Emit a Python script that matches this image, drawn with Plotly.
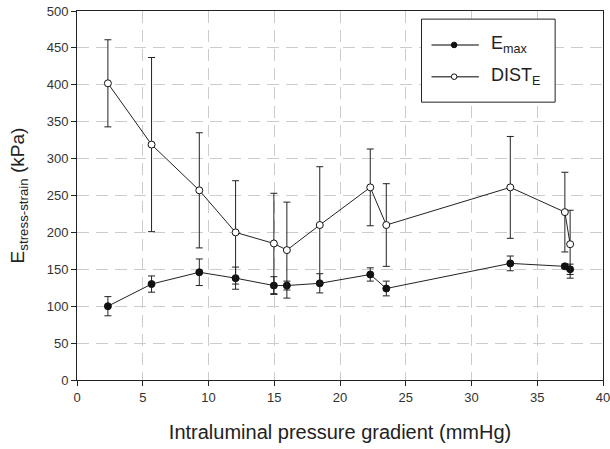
import plotly.graph_objects as go

# Intraluminal pressure gradient (mmHg)
pressure = [2.35, 5.67, 9.3, 12.06, 14.97, 15.96, 18.46, 22.3, 23.52, 32.95, 37.1, 37.5]

# Stress-strain modulus (kPa): mean and SD
emax_mean = [100, 130, 146, 138, 128, 128, 131, 143, 124, 158, 154, 150]
emax_sd = [13, 11, 18, 15, 12, 6, 13, 9, 10, 10, 3, 7]

dist_mean = [402, 319, 257, 200, 185, 176, 210, 261, 210, 261, 227.5, 184]
dist_sd = [59, 118, 78, 70, 68, 65, 79, 52, 56, 69, 54, 46]

series_names = ["E<sub>max</sub>", "DIST<sub>E</sub>"]
marker_fills = ["#111111", "white"]

font_family = "Liberation Sans, Arial, sans-serif"
ink = "#222222"

fig = go.Figure()

for name, ys, sd, fill in zip(series_names, [emax_mean, dist_mean],
                              [emax_sd, dist_sd], marker_fills):
    fig.add_trace(go.Scatter(
        x=pressure, y=ys, name=name,
        mode="lines+markers",
        line=dict(color=ink, width=1),
        marker=dict(symbol="circle", size=7, color=fill,
                    line=dict(color="#111111", width=1)),
        error_y=dict(type="data", array=sd, visible=True,
                     color=ink, thickness=1, width=3.5),
        showlegend=False,
    ))

# Boxed key in the upper right corner
box_x0, box_x1, box_y0, box_y1 = 0.655, 0.909, 0.753, 0.978
key_rows = [0.908, 0.822]
line_x0, line_x1, dot_x = 0.674, 0.764, 0.717
text_x = 0.783

shapes = [dict(type="rect", xref="paper", yref="paper",
               x0=box_x0, x1=box_x1, y0=box_y0, y1=box_y1,
               line=dict(color=ink, width=1), fillcolor="white", layer="above")]
annotations = []
for row_y, name, fill in zip(key_rows, series_names, marker_fills):
    shapes.append(dict(type="line", xref="paper", yref="paper",
                       x0=line_x0, x1=line_x1, y0=row_y, y1=row_y,
                       line=dict(color="#555555", width=1.5), layer="above"))
    shapes.append(dict(type="circle", xref="paper", yref="paper",
                       xsizemode="pixel", ysizemode="pixel",
                       xanchor=dot_x, yanchor=row_y,
                       x0=-2.8, x1=2.8, y0=-2.8, y1=2.8,
                       fillcolor=fill, line=dict(color="#111111", width=1),
                       layer="above"))
    annotations.append(dict(xref="paper", yref="paper", x=text_x, y=row_y,
                            xanchor="left", yanchor="middle", showarrow=False,
                            text=name, font=dict(size=18, color=ink)))

grid_style = dict(showgrid=True, gridcolor="#cccccc", gridwidth=1,
                  griddash="12px,7px")

fig.update_layout(
    width=610, height=449,
    margin=dict(l=77, r=7, t=11, b=69),
    paper_bgcolor="white", plot_bgcolor="white",
    font=dict(family=font_family, size=13, color=ink),
    showlegend=False,
    shapes=shapes,
    annotations=annotations,
    xaxis=dict(
        range=[0, 40], dtick=5, tick0=0, automargin=False,
        ticklabeloverflow="allow",
        showline=True, linecolor=ink, linewidth=1, mirror=True,
        ticks="outside", ticklen=5, tickcolor=ink,
        tickfont=dict(size=13, color="#333333"),
        zeroline=False,
        title=dict(text="Intraluminal pressure gradient (mmHg)",
                   font=dict(size=20), standoff=21),
        **grid_style,
    ),
    yaxis=dict(
        range=[0, 500], dtick=50, tick0=0, automargin=False,
        ticklabeloverflow="allow",
        showline=True, linecolor=ink, linewidth=1, mirror=True,
        ticks="outside", ticklen=5, tickcolor=ink,
        tickfont=dict(size=13, color="#333333"),
        zeroline=False,
        title=dict(text="E<sub>stress-strain</sub> (kPa)",
                   font=dict(size=19), standoff=17),
        **grid_style,
    ),
)

fig.write_html("out.html")
